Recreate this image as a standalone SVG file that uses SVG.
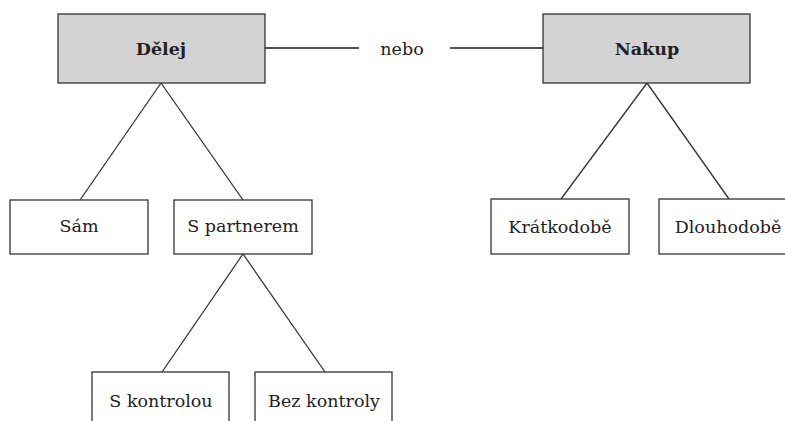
<svg xmlns="http://www.w3.org/2000/svg" width="785" height="421" viewBox="0 0 785 421">
<style>
.box{fill:#fff;stroke:#333;stroke-width:1.3}
.top{fill:#d3d3d3;stroke:#333;stroke-width:1.3}
text{font-family:'DejaVu Serif','Liberation Serif',serif;font-size:17.5px;fill:#222;text-anchor:middle}
.b{font-weight:bold}
.c{stroke:#333;stroke-width:1.3;fill:none}
.c2{stroke:#555;stroke-width:2;fill:none}
</style>
<rect width="785" height="421" fill="#fff"/>
<g id="connectors">
<line class="c" x1="161" y1="83" x2="80" y2="200"/>
<line class="c" x1="161" y1="83" x2="243" y2="200"/>
<line class="c" x1="243" y1="254" x2="162" y2="372"/>
<line class="c" x1="243" y1="254" x2="325" y2="372"/>
<line class="c" x1="647" y1="83" x2="561" y2="199"/>
<line class="c" x1="647" y1="83" x2="729" y2="199"/>
<line class="c2" x1="265" y1="48" x2="359" y2="48"/>
<line class="c2" x1="450" y1="48" x2="543" y2="48"/>
</g>
<g id="nebo"><text x="402" y="55">nebo</text></g>
<g id="delej"><rect class="top" x="58" y="14" width="207" height="69"/><text class="b" x="161" y="55">Dělej</text></g>
<g id="nakup"><rect class="top" x="543" y="14" width="207" height="69"/><text class="b" x="647" y="55">Nakup</text></g>
<g id="sam"><rect class="box" x="10" y="200" width="138" height="54"/><text x="79" y="232">Sám</text></g>
<g id="spartnerem"><rect class="box" x="174" y="200" width="138" height="54"/><text x="243" y="232">S partnerem</text></g>
<g id="kratkodobe"><rect class="box" x="491" y="199" width="138" height="55"/><text x="560" y="233">Krátkodobě</text></g>
<g id="dlouhodobe"><rect class="box" x="659" y="199" width="138" height="55"/><text x="728" y="233">Dlouhodobě</text></g>
<g id="skontrolou"><rect class="box" x="92" y="372" width="137" height="56"/><text x="161" y="407">S kontrolou</text></g>
<g id="bezkontroly"><rect class="box" x="255" y="372" width="137" height="56"/><text x="324" y="407">Bez kontroly</text></g>
</svg>
